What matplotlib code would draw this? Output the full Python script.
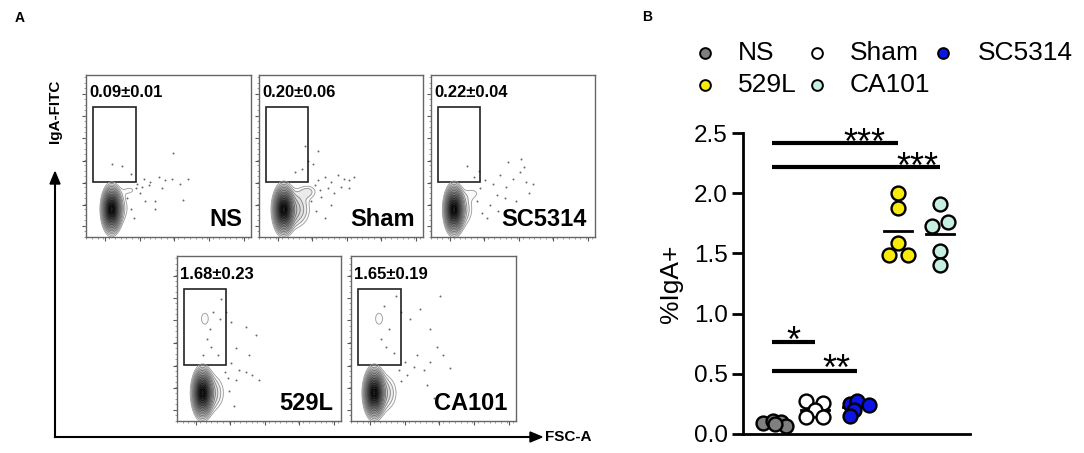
import numpy as np
import matplotlib
matplotlib.use("Agg")
import matplotlib.pyplot as plt
from matplotlib.ticker import MultipleLocator

plt.rcParams['font.family'] = ['Liberation Sans', 'DejaVu Sans']

W, H = 1084, 453

# ---------------- panel A data ----------------
panel_names = ["NS", "Sham", "SC5314", "529L", "CA101"]
gate_labels = ["0.09\u00b10.01", "0.20\u00b10.06", "0.22\u00b10.04", "1.68\u00b10.23", "1.65\u00b10.19"]

# populations per panel: (cx, cy, sx, sy, weight) in axes fraction
pops = {
    "NS":     [(0.155, 0.17, 0.026, 0.064, 1.0), (0.19, 0.18, 0.05, 0.068, 0.06), (0.27, 0.29, 0.04, 0.025, 0.03)],
    "Sham":   [(0.15, 0.17, 0.028, 0.066, 1.0), (0.21, 0.17, 0.06, 0.07, 0.12), (0.30, 0.28, 0.04, 0.03, 0.05)],
    "SC5314": [(0.14, 0.17, 0.026, 0.066, 1.0), (0.18, 0.17, 0.05, 0.07, 0.08), (0.26, 0.27, 0.04, 0.03, 0.03)],
    "529L":   [(0.155, 0.17, 0.027, 0.066, 1.0), (0.20, 0.17, 0.055, 0.072, 0.1), (0.17, 0.62, 0.025, 0.04, 0.045)],
    "CA101":  [(0.14, 0.17, 0.027, 0.066, 1.0), (0.19, 0.17, 0.055, 0.072, 0.1), (0.17, 0.62, 0.025, 0.04, 0.045)],
}

# scattered events per panel (x, y) in axes fraction
dots = {
    "NS": [(0.16, 0.45), (0.22, 0.44), (0.27, 0.39), (0.53, 0.52), (0.31, 0.33), (0.35, 0.36),
           (0.39, 0.34), (0.44, 0.37), (0.48, 0.35), (0.52, 0.36), (0.57, 0.33), (0.59, 0.23),
           (0.36, 0.22), (0.42, 0.22), (0.42, 0.17), (0.33, 0.27), (0.29, 0.12), (0.46, 0.30),
           (0.30, 0.30), (0.34, 0.31), (0.38, 0.32), (0.25, 0.24), (0.27, 0.17), (0.62, 0.36)],
    "Sham": [(0.28, 0.56), (0.30, 0.47), (0.26, 0.42), (0.22, 0.40), (0.36, 0.53), (0.36, 0.35),
             (0.40, 0.37), (0.44, 0.34), (0.48, 0.38), (0.52, 0.36), (0.55, 0.35), (0.58, 0.37),
             (0.42, 0.30), (0.46, 0.27), (0.50, 0.31), (0.38, 0.25), (0.44, 0.20), (0.40, 0.12),
             (0.55, 0.30), (0.33, 0.45), (0.34, 0.32), (0.37, 0.29), (0.32, 0.22), (0.35, 0.16)],
    "SC5314": [(0.29, 0.41), (0.22, 0.44), (0.26, 0.37), (0.33, 0.35), (0.38, 0.33), (0.42, 0.38),
               (0.46, 0.31), (0.50, 0.36), (0.54, 0.40), (0.58, 0.34), (0.62, 0.33), (0.47, 0.46),
               (0.55, 0.48), (0.40, 0.26), (0.45, 0.24), (0.52, 0.22), (0.36, 0.20), (0.60, 0.27),
               (0.34, 0.12), (0.41, 0.16), (0.57, 0.43), (0.30, 0.30), (0.28, 0.22), (0.31, 0.15)],
    "529L": [(0.22, 0.66), (0.20, 0.56), (0.18, 0.50), (0.21, 0.45), (0.25, 0.40), (0.27, 0.74),
             (0.30, 0.66), (0.33, 0.60), (0.42, 0.57), (0.48, 0.52), (0.36, 0.44), (0.44, 0.40),
             (0.33, 0.35), (0.38, 0.31), (0.42, 0.30), (0.46, 0.28), (0.50, 0.25), (0.36, 0.25),
             (0.32, 0.18), (0.35, 0.09), (0.26, 0.62), (0.16, 0.40), (0.29, 0.30), (0.31, 0.26)],
    "CA101": [(0.20, 0.70), (0.23, 0.56), (0.18, 0.50), (0.21, 0.45), (0.26, 0.41), (0.27, 0.76),
              (0.30, 0.66), (0.36, 0.62), (0.42, 0.68), (0.48, 0.56), (0.52, 0.45), (0.40, 0.40),
              (0.33, 0.36), (0.38, 0.33), (0.44, 0.31), (0.48, 0.36), (0.56, 0.40), (0.60, 0.32),
              (0.46, 0.22), (0.50, 0.14), (0.30, 0.24), (0.54, 0.76), (0.29, 0.31), (0.34, 0.28)],
}

gate_box = (0.04, 0.34, 0.30, 0.80)  # x0, y0, x1, y1

# panel rectangles in pixels (left, top, right, bottom)
panel_px = {
    "NS": (86, 75, 251, 237),
    "Sham": (259, 75, 423, 237),
    "SC5314": (431, 75, 595, 237),
    "529L": (177, 256, 341, 421),
    "CA101": (351, 256, 516, 421),
}

# ---------------- panel B data ----------------
groups = ["NS", "Sham", "SC5314", "529L", "CA101"]
colors = ["#7f7f7f", "#ffffff", "#0a14e6", "#f7ea0c", "#c6efe4"]
values = [
    [0.09, 0.11, 0.10, 0.07, 0.08],
    [0.27, 0.26, 0.20, 0.14, 0.14],
    [0.25, 0.27, 0.24, 0.20, 0.15],
    [2.00, 1.88, 1.59, 1.49, 1.49],
    [1.91, 1.76, 1.73, 1.52, 1.40],
]
x_offsets = [
    [-0.25, 0.00, 0.20, 0.30, 0.05],
    [-0.20, 0.20, 0.00, -0.20, 0.20],
    [-0.15, 0.02, 0.30, -0.07, -0.15],
    [0.00, 0.00, 0.00, -0.23, 0.23],
    [0.00, 0.20, -0.20, 0.00, 0.00],
]
# significance: (group a, group b, bar height, label, label x, label centre y)
sig = [
    (0, 3, 2.42, "***", 2.2, 2.51),
    (0, 4, 2.22, "***", 3.45, 2.31),
    (0, 1, 0.76, "*", 0.48, 0.86),
    (0, 2, 0.52, "**", 1.53, 0.63),
]
# legend slots (pixel positions of marker, text x)
legend_slots = [(705, 53, 738), (817, 53, 850), (943, 53, 978), (705, 85, 738), (817, 85, 850)]


def px_rect(l, t, r, b):
    return [l / W, 1 - b / H, (r - l) / W, (b - t) / H]


fig = plt.figure(figsize=(W / 100, H / 100), dpi=100)

# ---------------- panel A ----------------
gx, gy = np.meshgrid(np.linspace(0, 1, 400), np.linspace(0, 1, 400))
levels_frac = [0.03, 0.045, 0.065, 0.09, 0.12, 0.16, 0.21, 0.27, 0.34, 0.42, 0.5, 0.59, 0.68, 0.77, 0.86, 0.94]
line_cols = [str(g) for g in np.linspace(0.6, 0.0, len(levels_frac))]
fill_cols = [str(g) for g in np.linspace(0.98, 0.12, len(levels_frac))]

for name, lab in zip(panel_names, gate_labels):
    ax = fig.add_axes(px_rect(*panel_px[name]))
    dens = np.zeros_like(gx)
    for cx, cy, sx, sy, w in pops[name]:
        dens += w * np.exp(-((gx - cx) ** 2 / (2 * sx ** 2) + (gy - cy) ** 2 / (2 * sy ** 2)))
    lv = [f * dens.max() for f in levels_frac]
    ax.contourf(gx, gy, dens, levels=lv + [dens.max() * 1.01], colors=fill_cols)
    ax.contour(gx, gy, dens, levels=lv, colors=line_cols, linewidths=0.6)
    d = np.array(dots[name])
    ax.scatter(d[:, 0], d[:, 1], s=2.0, color="#6a6a6a", linewidths=0)
    x0, y0, x1, y1 = gate_box
    ax.add_patch(plt.Rectangle((x0, y0), x1 - x0, y1 - y0, fill=False, ec="#222222", lw=1.2))
    ax.text(0.02, 0.89, lab, fontsize=12, fontweight="bold", ha="left", va="center",
            transform=ax.transAxes)
    ax.text(0.95, 0.035, name, fontsize=17, fontweight="bold", ha="right", va="bottom",
            transform=ax.transAxes)
    ax.set_xlim(0, 1)
    ax.set_ylim(0, 1)
    ax.set_xticks([0.115, 0.325, 0.535, 0.745, 0.955])
    ax.set_yticks([0.065, 0.2, 0.335, 0.47, 0.61, 0.745, 0.88])
    ax.xaxis.set_minor_locator(MultipleLocator(0.035))
    ax.yaxis.set_minor_locator(MultipleLocator(0.034))
    ax.tick_params(which="major", length=3, width=0.8, color="#555555", labelbottom=False, labelleft=False)
    ax.tick_params(which="minor", length=1.5, width=0.5, color="#777777")
    for sp in ax.spines.values():
        sp.set_color("#666666")
        sp.set_linewidth(1.0)

# axis arrows of panel A
fig.add_artist(plt.Line2D([55 / W, 55 / W], [1 - 437 / H, 1 - 182 / H], color="black", lw=1.5))
fig.add_artist(plt.Line2D([55 / W, 532 / W], [1 - 437 / H, 1 - 437 / H], color="black", lw=1.5))
fig.patches.append(plt.Polygon([[50 / W, 1 - 184 / H], [60 / W, 1 - 184 / H], [55 / W, 1 - 172 / H]],
                               closed=True, color="black", transform=fig.transFigure, figure=fig))
fig.patches.append(plt.Polygon([[530 / W, 1 - 432 / H], [530 / W, 1 - 442 / H], [542 / W, 1 - 437 / H]],
                               closed=True, color="black", transform=fig.transFigure, figure=fig))
fig.text(55 / W, 1 - 80 / H, "IgA-FITC", rotation=90, fontsize=11, fontweight="bold",
         ha="center", va="top")
fig.text(545 / W, 1 - 437 / H, "FSC-A", fontsize=11, fontweight="bold", ha="left", va="center")
fig.text(15 / W, 1 - 18 / H, "A", fontsize=10, fontweight="bold", ha="left", va="center")
fig.text(647 / W, 1 - 17 / H, "B", fontsize=10, fontweight="bold", ha="center", va="center")

# ---------------- panel B ----------------
axb = fig.add_axes(px_rect(743, 133, 970, 434))
for i, (g, c) in enumerate(zip(groups, colors)):
    xs = [i + o for o in x_offsets[i]]
    axb.scatter(xs, values[i], s=100, color=c, edgecolors="black", linewidths=1.7,
                zorder=3, clip_on=False)
    m = np.mean(values[i])
    axb.plot([i - 0.33, i + 0.33], [m, m], color="black", lw=2, zorder=2)

for a, b, yb, lab, tx, ty in sig:
    axb.plot([a - 0.03, b], [yb, yb], color="black", lw=3, solid_capstyle="butt", clip_on=False)
    axb.text(tx, ty - 0.18, lab, fontsize=26, ha="center", va="baseline", clip_on=False)

axb.set_xlim(-0.72, 4.72)
axb.set_ylim(0, 2.5)
axb.set_yticks([0.0, 0.5, 1.0, 1.5, 2.0, 2.5])
axb.set_yticklabels(["0.0", "0.5", "1.0", "1.5", "2.0", "2.5"])
axb.set_xticks([])
axb.tick_params(axis="y", length=8, width=2, labelsize=17.5, pad=3)
axb.spines["top"].set_visible(False)
axb.spines["right"].set_visible(False)
axb.spines["left"].set_linewidth(2)
axb.spines["bottom"].set_linewidth(2)
axb.set_ylabel("%IgA+", fontsize=19, labelpad=8)

# legend drawn in a pixel-coordinate overlay
axl = fig.add_axes([0, 0, 1, 1], zorder=-1)
axl.set_xlim(0, W)
axl.set_ylim(H, 0)
axl.axis("off")
for (mx, my, tx), g, c in zip(legend_slots, groups, colors):
    axl.scatter([mx], [my], s=60, color=c, edgecolors="black", linewidths=1.4)
    axl.text(tx, my, g, fontsize=19, ha="left", va="center")

fig.savefig("out.png", dpi=100)
